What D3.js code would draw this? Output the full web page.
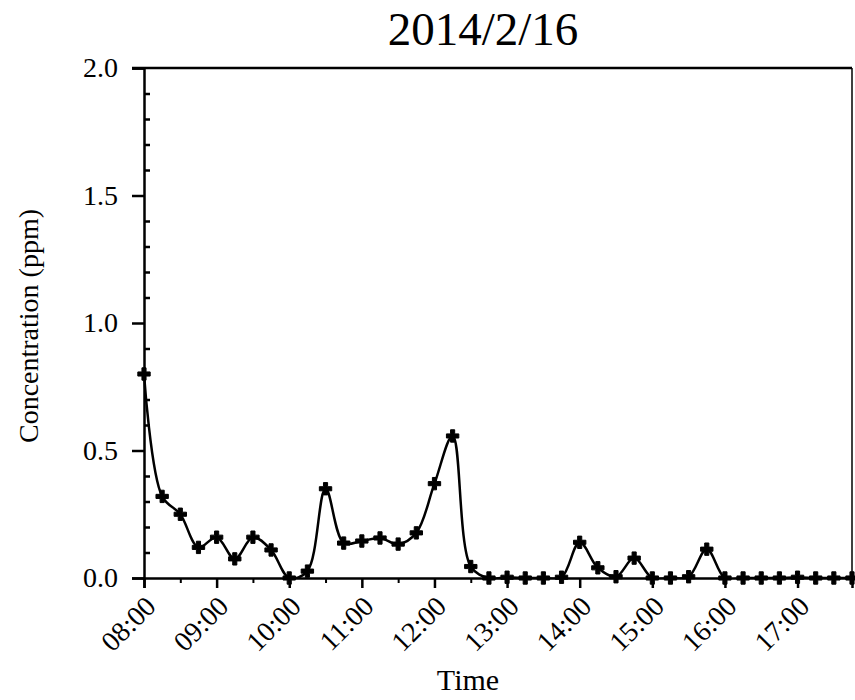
<!DOCTYPE html>
<html>
<head>
<meta charset="utf-8">
<script src="https://cdn.jsdelivr.net/npm/d3@7"></script>
<style>
  body { margin: 0; background: #fff; }
  svg text { font-family: "Liberation Serif", "Times New Roman", serif; fill: #000; }
</style>
</head>
<body>
<div class="chart"></div>
<script>
// 15-minute samples from 08:00 to 17:45
const times = [
  "08:00","08:15","08:30","08:45","09:00","09:15","09:30","09:45",
  "10:00","10:15","10:30","10:45","11:00","11:15","11:30","11:45",
  "12:00","12:15","12:30","12:45","13:00","13:15","13:30","13:45",
  "14:00","14:15","14:30","14:45","15:00","15:15","15:30","15:45",
  "16:00","16:15","16:30","16:45","17:00","17:15","17:30","17:45"
]
const concentration = [
  0.80, 0.32, 0.25, 0.12, 0.16, 0.075, 0.16, 0.11,
  0.0, 0.027, 0.35, 0.137, 0.145, 0.157, 0.133, 0.177,
  0.37, 0.557, 0.045, 0.0, 0.003, 0.0, 0.0, 0.003,
  0.14, 0.04, 0.005, 0.078, 0.0, 0.0, 0.005, 0.113,
  0.0, 0.0, 0.0, 0.0, 0.003, 0.0, 0.0, 0.0
]
const hourTicks = ["08:00","09:00","10:00","11:00","12:00","13:00","14:00","15:00","16:00","17:00"]
const yTicks = [0, 0.5, 1.0, 1.5, 2.0]

const width = 855, height = 700
const margin = {top: 68, right: 3, bottom: 122, left: 144}
const innerW = width - margin.left - margin.right
const innerH = height - margin.top - margin.bottom

const toMin = (t) => {
    const [h, m] = t.split(":").map(Number)
    return (h - 8) * 60 + m
}

const x = d3.scaleLinear().domain([0, 585]).range([0, innerW])
const y = d3.scaleLinear().domain([0, 2]).range([innerH, 0])

const svg = d3.select(".chart").append("svg")
    .attr("width", width)
    .attr("height", height)

const g = svg.append("g")
    .attr("transform", `translate(${margin.left},${margin.top})`)

svg.append("defs").append("clipPath")
    .attr("id", "plot-clip")
    .append("rect")
    .attr("x", -8).attr("y", -8)
    .attr("width", innerW + 16).attr("height", innerH + 8)

// frame (top + right)
g.append("line")
    .attr("x1", -12).attr("x2", innerW)
    .attr("y1", 0).attr("y2", 0)
    .attr("stroke", "#000").attr("stroke-width", 2.5)
g.append("line")
    .attr("x1", innerW).attr("x2", innerW)
    .attr("y1", 0).attr("y2", innerH)
    .attr("stroke", "#000").attr("stroke-width", 1.5)

// x axis
const xAxis = g.append("g")
    .attr("transform", `translate(0,${innerH})`)
    .call(d3.axisBottom(x)
        .tickValues(hourTicks.map(toMin))
        .tickSize(10)
        .tickFormat((d, i) => hourTicks[i]))
xAxis.select(".domain").attr("stroke-width", 2.5)
xAxis.selectAll(".tick line").attr("stroke-width", 2.5)
xAxis.selectAll(".tick text")
    .attr("font-size", 28)
    .attr("text-anchor", "end")
    .attr("dy", 0)
    .attr("transform", "translate(13,30) rotate(-45)")
    .attr("y", 0).attr("x", 0)

const xMinor = g.append("g")
    .attr("transform", `translate(0,${innerH})`)
    .call(d3.axisBottom(x)
        .tickValues(hourTicks.map((t) => toMin(t) + 30))
        .tickSize(5)
        .tickFormat(""))
xMinor.select(".domain").remove()
xMinor.selectAll(".tick line").attr("stroke-width", 2)

// y axis
const yAxis = g.append("g")
    .call(d3.axisLeft(y)
        .tickValues(yTicks)
        .tickSize(12)
        .tickPadding(14)
        .tickFormat(d3.format(".1f")))
yAxis.select(".domain").attr("stroke-width", 2.5)
yAxis.selectAll(".tick line").attr("stroke-width", 2.5)
yAxis.selectAll(".tick text").attr("font-size", 28)

const yMinor = g.append("g")
    .call(d3.axisRight(y)
        .tickValues(d3.range(0, 20).filter((k) => k % 5 !== 0).map((k) => k / 10))
        .tickSize(6)
        .tickFormat(""))
yMinor.select(".domain").remove()
yMinor.selectAll(".tick line").attr("stroke-width", 2.5)

// series
const data = times.map((t, i) => ({t: toMin(t), v: concentration[i]}))

const line = d3.line()
    .x((d) => x(d.t))
    .y((d) => y(d.v))
    .curve(d3.curveCatmullRom.alpha(0.5))

g.append("path")
    .datum(data)
    .attr("clip-path", "url(#plot-clip)")
    .attr("fill", "none")
    .attr("stroke", "#000")
    .attr("stroke-width", 2.5)
    .attr("d", line)

g.append("g").selectAll("path")
    .data(data)
    .enter()
    .append("path")
    .attr("d", d3.symbol().type(d3.symbolCross).size(85))
    .attr("transform", (d) => `translate(${x(d.t)},${y(d.v)})`)
    .attr("fill", "#000")
    .attr("stroke", "#000")
    .attr("stroke-width", 1)
    .attr("stroke-linejoin", "round")

// titles
svg.append("text")
    .attr("x", 483).attr("y", 45)
    .attr("text-anchor", "middle")
    .attr("font-size", 47)
    .text("2014/2/16")

svg.append("text")
    .attr("x", 468).attr("y", 690)
    .attr("text-anchor", "middle")
    .attr("font-size", 30)
    .text("Time")

svg.append("text")
    .attr("transform", "translate(38,326) rotate(-90)")
    .attr("text-anchor", "middle")
    .attr("font-size", 28)
    .text("Concentration (ppm)")
</script>
</body>
</html>
